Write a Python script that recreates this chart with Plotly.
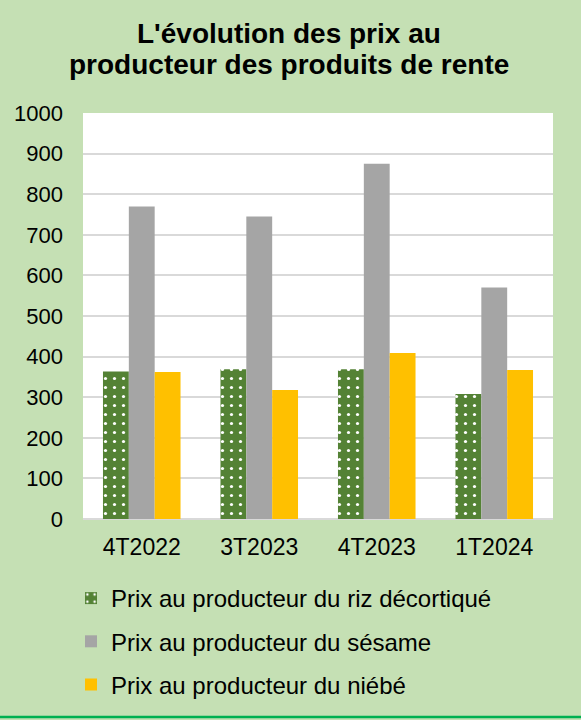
import plotly.graph_objects as go

categories = ["4T2022", "3T2023", "4T2023", "1T2024"]
riz = [363, 369, 369, 308]
sesame = [770, 745, 875, 570]
niebe = [362, 318, 409, 367]
series_names = [
    "Prix au producteur du riz décortiqué",
    "Prix au producteur du sésame",
    "Prix au producteur du niébé",
]
title_lines = ["L'évolution des prix au", "producteur des produits de rente"]
y_ticks = [0, 100, 200, 300, 400, 500, 600, 700, 800, 900, 1000]

FONT = "Liberation Sans, Arial, sans-serif"
BG = "#C5E0B4"
PLOT_TOP, PLOT_BOTTOM = 113, 519
PH = PLOT_BOTTOM - PLOT_TOP


def py(p):
    return (PLOT_BOTTOM - p) / PH


fig = go.Figure()
fig.add_trace(go.Bar(
    x=categories, y=riz, name=series_names[0], legendgroup="a",
    marker=dict(color="#548235", line=dict(width=0),
                pattern=dict(shape=".", fgcolor="white", bgcolor="#548235",
                             size=9, solidity=0.1, fillmode="replace")),
))
fig.add_trace(go.Bar(
    x=categories, y=sesame, name=series_names[1], legendgroup="b",
    marker=dict(color="#A5A5A5", line=dict(width=0)),
))
fig.add_trace(go.Bar(
    x=categories, y=niebe, name=series_names[2], legendgroup="c",
    marker=dict(color="#FFC000", line=dict(width=0)),
))

annotations = []
for line, yc in zip(title_lines, [33, 65]):
    annotations.append(dict(
        text="<b>" + line + "</b>", xref="paper", yref="paper",
        x=(289 - 83) / 470, y=py(yc), xanchor="center", yanchor="middle",
        showarrow=False, font=dict(family=FONT, size=28, color="black"),
    ))

fig.update_layout(
    width=581, height=720,
    paper_bgcolor=BG, plot_bgcolor="white",
    margin=dict(l=83, r=28, t=PLOT_TOP, b=720 - PLOT_BOTTOM),
    font=dict(family=FONT, color="black", size=22),
    barmode="group", bargap=0.34, bargroupgap=0,
    showlegend=True,
    legend=dict(
        orientation="v", x=(71 - 83) / 470, xanchor="left",
        y=py(576), yanchor="top",
        font=dict(family=FONT, size=24, color="black"),
        bgcolor="rgba(0,0,0,0)", tracegroupgap=9,
        traceorder="grouped",
    ),
    xaxis=dict(
        showgrid=False, showline=False, ticks="",
        tickfont=dict(size=23), ticklabelstandoff=12,
    ),
    yaxis=dict(
        range=[0, 1000], tickvals=y_ticks, showgrid=True,
        gridcolor="#D9D9D9", gridwidth=1.5,
        zeroline=True, zerolinecolor="#D9D9D9", zerolinewidth=2,
        showline=False, ticks="", tickfont=dict(size=22),
        ticklabelstandoff=19,
    ),
    annotations=annotations,
    shapes=[dict(
        type="line", xref="paper", yref="paper",
        x0=-83 / 470, x1=(581 - 83) / 470,
        y0=py(717), y1=py(717),
        line=dict(color="#00B050", width=2.5),
    )],
)

fig.write_html("out.html", config={"displayModeBar": False},
               post_script="document.body.style.margin='0';document.body.style.padding='0';")
